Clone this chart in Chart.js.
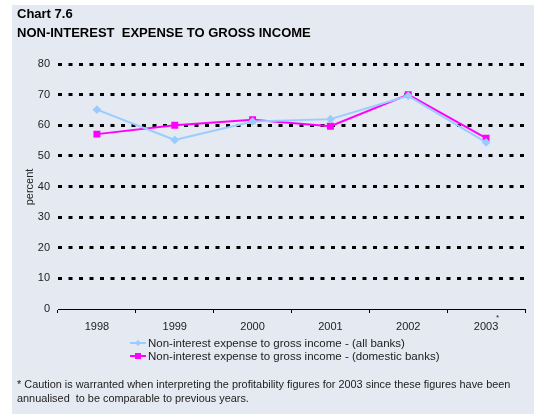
<!DOCTYPE html>
<html>
<head>
<meta charset="utf-8">
<script src="https://cdn.jsdelivr.net/npm/chart.js@4"></script>
<style>
  html, body { margin: 0; padding: 0; background: #ffffff; }
  #wrap { width: 534px; height: 414px; position: relative; }
</style>
</head>
<body>
<div id="wrap"><canvas id="mycanvas" width="534" height="414"></canvas></div>
<script>
var years = ["1998", "1999", "2000", "2001", "2002", "2003"];
var allBanks = [65.1, 55.2, 61.2, 62.0, 69.6, 54.4];
var domesticBanks = [57.1, 60.0, 61.8, 59.7, 70.0, 55.8];
var yTicks = [0, 10, 20, 30, 40, 50, 60, 70, 80];

var labelAll = "Non-interest expense to gross income - (all banks)";
var labelDomestic = "Non-interest expense to gross income - (domestic banks)";
var fontFam = 'Arial, "Liberation Sans", sans-serif';

// background panel, titles, legend and footnote
var decor = {
    id: 'decor',
    beforeDraw: function (chart) {
        var c = chart.ctx;
        c.save();
        c.fillStyle = '#e5e9f1';
        c.fillRect(12, 5, chart.width - 12, chart.height - 5);
        c.restore();
    },
    afterDraw: function (chart) {
        var c = chart.ctx;
        c.save();
        c.fillStyle = '#000';
        c.textBaseline = 'alphabetic';
        c.font = 'bold 13px ' + fontFam;
        c.fillText("Chart 7.6", 17, 18);
        c.fillText("NON-INTEREST  EXPENSE TO GROSS INCOME", 17, 37);

        // y axis title
        c.save();
        c.font = '11px ' + fontFam;
        c.fillStyle = '#222';
        c.translate(33, 187);
        c.rotate(-Math.PI / 2);
        c.textAlign = 'center';
        c.fillText("percent", 0, 0);
        c.restore();

        // asterisk next to 2003
        c.font = '8px ' + fontFam;
        c.fillStyle = '#222';
        c.fillText("*", 496, 320);

        // legend
        var rows = [
            { text: labelAll, ds: chart.data.datasets[0], y: 343 },
            { text: labelDomestic, ds: chart.data.datasets[1], y: 356 }
        ];
        c.font = '11.5px ' + fontFam;
        rows.forEach(function (r) {
            c.strokeStyle = r.ds.borderColor;
            c.lineWidth = r.ds.borderWidth;
            c.beginPath();
            c.moveTo(130, r.y);
            c.lineTo(146, r.y);
            c.stroke();
            c.fillStyle = r.ds.pointBackgroundColor;
            if (r.ds.pointStyle === 'rect') {
                c.fillRect(138 - 3, r.y - 3, 6, 6);
            } else {
                c.beginPath();
                c.moveTo(138, r.y - 3);
                c.lineTo(141, r.y);
                c.lineTo(138, r.y + 3);
                c.lineTo(135, r.y);
                c.closePath();
                c.fill();
            }
            c.fillStyle = '#222';
            c.textBaseline = 'middle';
            c.fillText(r.text, 148, r.y + 1);
        });

        // footnote
        c.textBaseline = 'alphabetic';
        c.font = '10.9px ' + fontFam;
        c.fillStyle = '#222';
        c.fillText("* Caution is warranted when interpreting the profitability figures for 2003 since these figures have been", 17, 388);
        c.fillText("annualised  to be comparable to previous years.", 17, 402);
        c.restore();
    }
};

var chartdata = {
    labels: years,
    datasets: [
        {
            label: labelAll,
            data: allBanks,
            borderColor: '#99ccff',
            backgroundColor: '#99ccff',
            pointBackgroundColor: '#99ccff',
            pointBorderColor: '#99ccff',
            borderWidth: 2,
            pointStyle: 'rectRot',
            pointRadius: 3,
            tension: 0
        },
        {
            label: labelDomestic,
            data: domesticBanks,
            borderColor: '#ff00ff',
            backgroundColor: '#ff00ff',
            pointBackgroundColor: '#ff00ff',
            pointBorderColor: '#ff00ff',
            borderWidth: 2,
            pointStyle: 'rect',
            pointRadius: 3.5,
            tension: 0
        }
    ]
};

var ctx = document.getElementById('mycanvas');

var lineGraph = new Chart(ctx, {
    type: 'line',
    data: chartdata,
    plugins: [decor],
    options: {
        responsive: false,
        animation: false,
        layout: { padding: { top: 64, right: 9, bottom: 77, left: 0 } },
        plugins: {
            legend: { display: false },
            tooltip: { enabled: false }
        },
        scales: {
            x: {
                offset: true,
                afterFit: function (scale) { scale.height = 28; },
                grid: {
                    offset: true,
                    drawOnChartArea: false,
                    drawTicks: true,
                    tickLength: 4,
                    color: '#000',
                    lineWidth: 1
                },
                border: { display: true, color: '#000', width: 1 },
                ticks: {
                    color: '#222',
                    font: { family: fontFam, size: 11 },
                    padding: 7,
                    maxRotation: 0
                }
            },
            y: {
                min: 0,
                max: 80,
                afterFit: function (scale) { scale.width = 58; },
                afterBuildTicks: function (scale) {
                    scale.ticks = yTicks.map(function (v) { return { value: v }; });
                },
                grid: {
                    drawTicks: false,
                    color: function (c) { return c.tick && c.tick.value === 0 ? 'rgba(0,0,0,0)' : '#000'; },
                    lineWidth: 3
                },
                border: { display: false, dash: [4, 6.5] },
                ticks: {
                    color: '#222',
                    font: { family: fontFam, size: 11 },
                    padding: 8
                }
            }
        }
    }
});
</script>
</body>
</html>
